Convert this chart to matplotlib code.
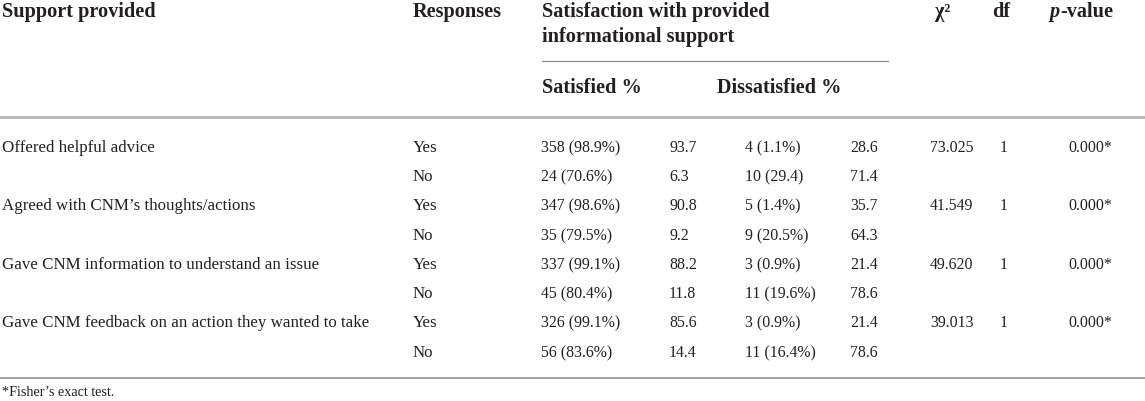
import matplotlib
matplotlib.use('Agg')
from matplotlib import pyplot as plt

# table contents
support = ['Offered helpful advice',
           'Agreed with CNM\u2019s thoughts/actions',
           'Gave CNM information to understand an issue',
           'Gave CNM feedback on an action they wanted to take']
responses = ['Yes', 'No']
satisfied = ['358 (98.9%)', '24 (70.6%)', '347 (98.6%)', '35 (79.5%)',
             '337 (99.1%)', '45 (80.4%)', '326 (99.1%)', '56 (83.6%)']
satisfied_col = ['93.7', '6.3', '90.8', '9.2', '88.2', '11.8', '85.6', '14.4']
dissatisfied = ['4 (1.1%)', '10 (29.4)', '5 (1.4%)', '9 (20.5%)',
                '3 (0.9%)', '11 (19.6%)', '3 (0.9%)', '11 (16.4%)']
dissatisfied_col = ['28.6', '71.4', '35.7', '64.3', '21.4', '78.6', '21.4', '78.6']
chi2 = ['73.025', '41.549', '49.620', '39.013']
dof = ['1', '1', '1', '1']
pvals = ['0.000*', '0.000*', '0.000*', '0.000*']

txt = '#231f20'
fam = ['Liberation Serif', 'DejaVu Serif']
fs = 11.4
lfs = 12.2
hfs = 14.6

fig = plt.figure(figsize=(11.45, 4.02), dpi=100)
ax = fig.add_axes([0, 0, 1, 1])
ax.set_xlim(0, 1145)
ax.set_ylim(402, 0)
ax.axis('off')

def put(x, y, s, size=fs, weight='normal', style='normal'):
    ax.text(x, y, s, fontsize=size, fontweight=weight, fontstyle=style,
            family=fam, color=txt, va='center', ha='left')

# header
put(2, 12, 'Support provided', hfs, 'bold')
put(413, 12, 'Responses', hfs, 'bold')
put(542, 12, 'Satisfaction with provided', hfs, 'bold')
put(542, 37, 'informational support', hfs, 'bold')
put(935, 12, '\u03c7\u00b2', hfs, 'bold')
put(992, 12, 'df', hfs, 'bold')
put(1049, 12, 'p', hfs, 'bold', 'italic')
put(1060, 12, '-value', hfs, 'bold')
put(542, 88, 'Satisfied %', hfs, 'bold')
put(717, 88, 'Dissatisfied %', hfs, 'bold')

ax.plot([542, 888], [62, 62], color='#8c8c8c', lw=0.9)
ax.plot([0, 1145], [118, 118], color='#b4b4b4', lw=2.0)
ax.plot([0, 1145], [379, 379], color='#9a9a9a', lw=1.3)

row_y = [148, 177, 206, 236, 265, 294, 323, 353]
for i, y in enumerate(row_y):
    g = i // 2
    if i % 2 == 0:
        put(2, y, support[g], lfs)
        put(930, y, chi2[g])
        put(1000, y, dof[g])
        put(1068, y, pvals[g])
    put(413, y, responses[i % 2], lfs)
    put(541, y, satisfied[i])
    put(669, y, satisfied_col[i])
    put(745, y, dissatisfied[i])
    put(850, y, dissatisfied_col[i])

put(2, 393, '*Fisher\u2019s exact test.', 10.2)

fig.savefig('out.png', dpi=100)
